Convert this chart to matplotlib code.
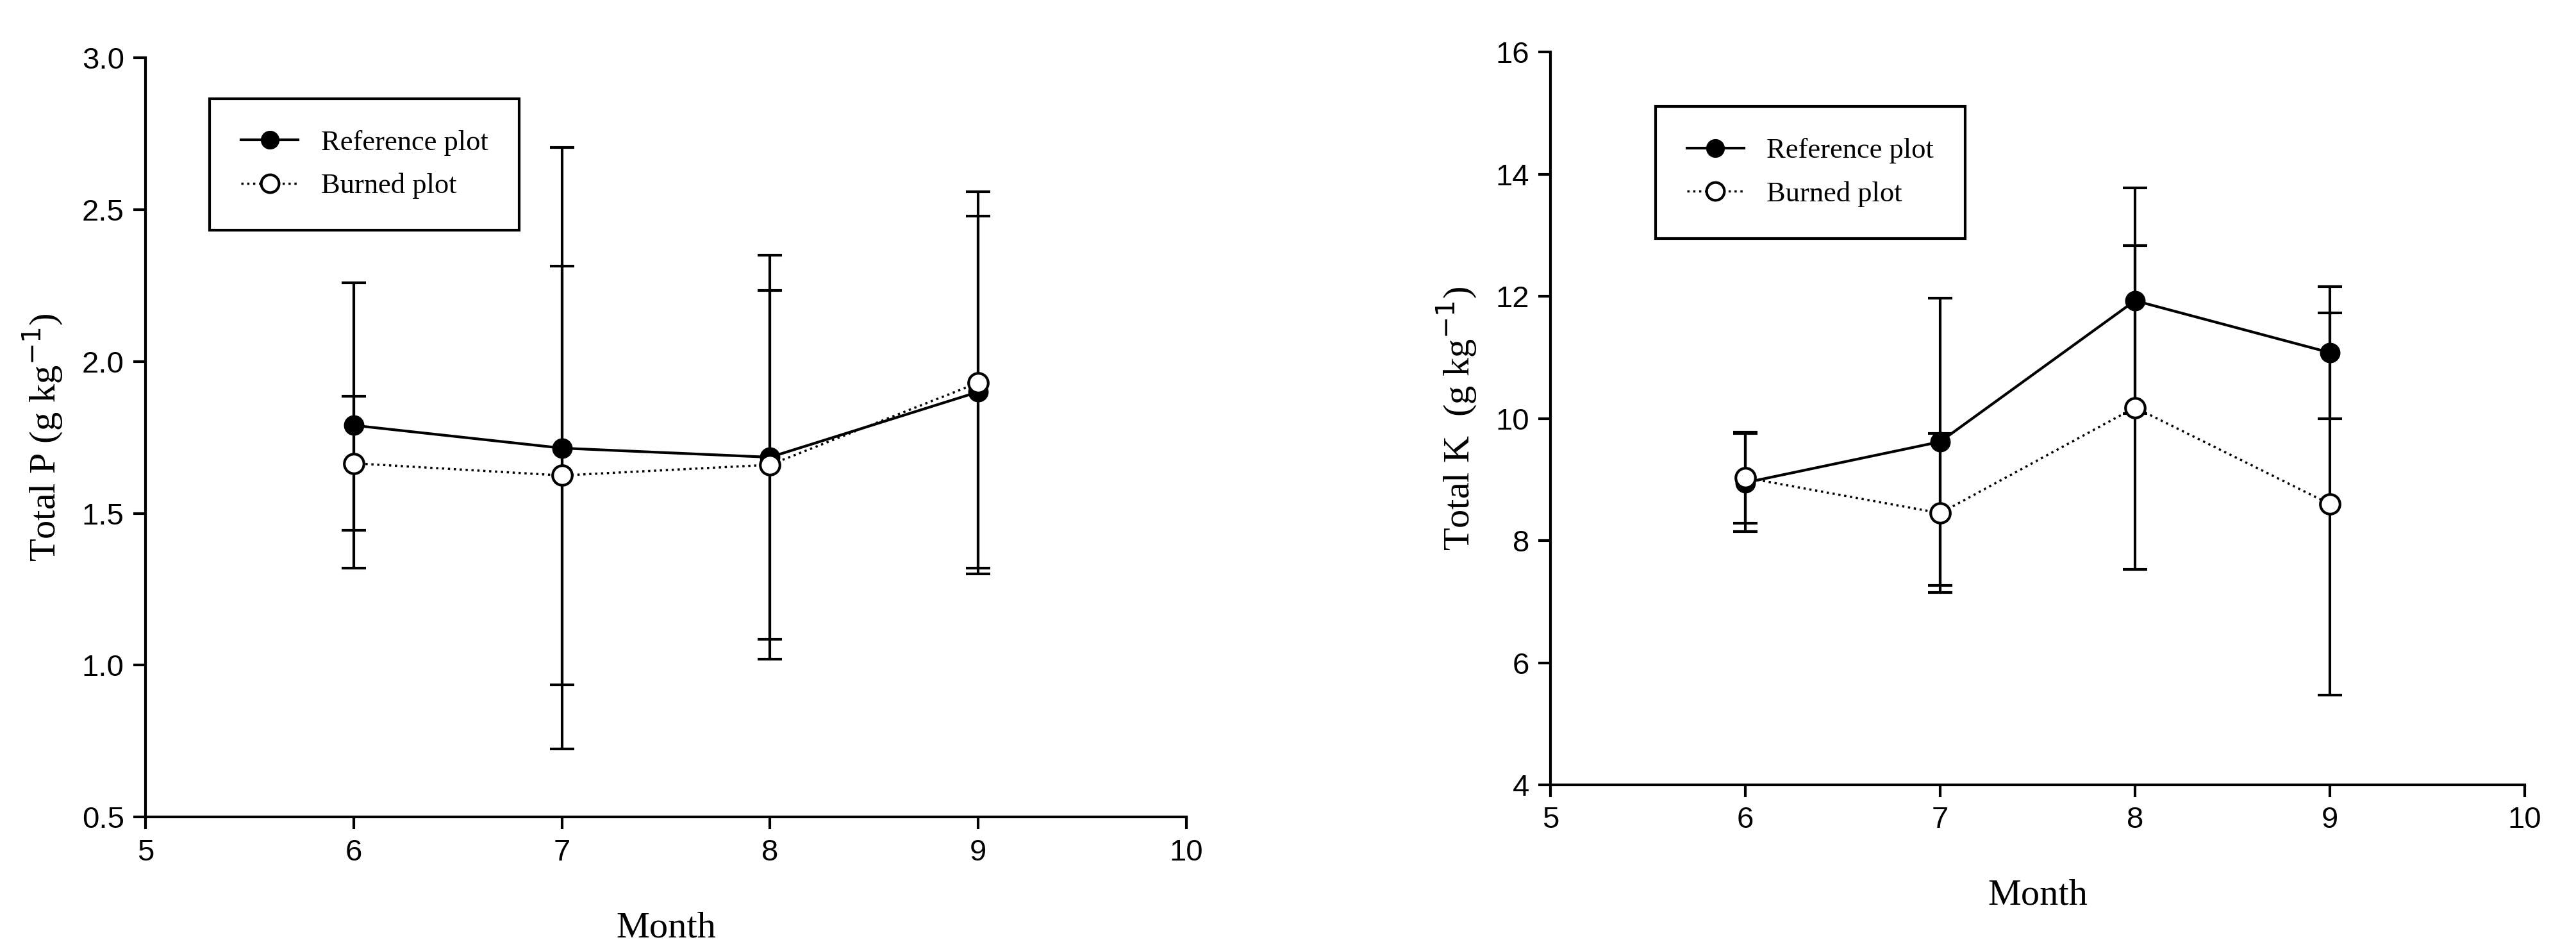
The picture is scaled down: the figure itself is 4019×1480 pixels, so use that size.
import matplotlib
matplotlib.use("Agg")
import matplotlib.pyplot as plt
from matplotlib.lines import Line2D

months = [6, 7, 8, 9]

p_ref = [1.79, 1.715, 1.685, 1.90]
p_ref_err = [0.47, 0.99, 0.665, 0.58]
p_burn = [1.665, 1.625, 1.66, 1.93]
p_burn_err = [0.22, 0.69, 0.575, 0.63]

k_ref = [8.95, 9.62, 11.93, 11.08]
k_ref_err = [0.80, 2.35, 1.85, 1.08]
k_burn = [9.03, 8.45, 10.18, 8.60]
k_burn_err = [0.75, 1.30, 2.65, 3.13]

serif = "Liberation Serif"
sans = "Liberation Sans"

fig = plt.figure(figsize=(40.19, 14.8), dpi=100)
ax1 = fig.add_axes([0.0565, 0.139, 0.404, 0.80])
ax2 = fig.add_axes([0.602, 0.173, 0.378, 0.772])


def draw(ax, ref, ref_err, burn, burn_err, ylim, yticks, ylabel, legend_anchor):
    ax.errorbar(months, ref, yerr=ref_err, color="black", lw=3, marker="o", ms=22,
                mfc="black", mec="black", capsize=14, capthick=3, elinewidth=3, zorder=3)
    ax.errorbar(months, burn, yerr=burn_err, color="black", lw=2.5, ls=":", marker="o", ms=22,
                mfc="white", mec="black", mew=3, capsize=14, capthick=3, elinewidth=3, zorder=4)
    ax.set_xlim(5, 10)
    ax.set_ylim(*ylim)
    ax.set_xticks([5, 6, 7, 8, 9, 10])
    ax.set_yticks(yticks)
    for s in ["top", "right"]:
        ax.spines[s].set_visible(False)
    for s in ["left", "bottom"]:
        ax.spines[s].set_linewidth(3)
    ax.tick_params(direction="out", length=14, width=3, labelsize=34, pad=10)
    for lab in ax.get_xticklabels() + ax.get_yticklabels():
        lab.set_family(sans)
    ax.set_xlabel("Month", family=serif, fontsize=42, labelpad=50)
    ax.set_ylabel(ylabel, family=serif, fontsize=42, labelpad=20)
    handles = [
        Line2D([], [], color="black", lw=3, marker="o", ms=20, mfc="black", mec="black"),
        Line2D([], [], color="black", lw=2.5, ls=":", marker="o", ms=20, mfc="white",
               mec="black", mew=3),
    ]
    leg = ax.legend(handles, ["Reference plot", "Burned plot"], loc="upper left",
                    bbox_to_anchor=legend_anchor, frameon=True, fancybox=False,
                    prop={"family": serif, "size": 32}, borderpad=1.1, handlelength=2.0,
                    edgecolor="black", labelspacing=0.6, framealpha=1)
    leg.get_frame().set_linewidth(3)


draw(ax1, p_ref, p_ref_err, p_burn, p_burn_err, (0.5, 3.0), [0.5, 1.0, 1.5, 2.0, 2.5, 3.0],
     "Total P (g kg$^{-1}$)", (0.048, 0.965))
ax1.yaxis.set_major_formatter(matplotlib.ticker.FormatStrFormatter("%.1f"))
for lab in ax1.get_yticklabels():
    lab.set_family(sans)
draw(ax2, k_ref, k_ref_err, k_burn, k_burn_err, (4, 16), [4, 6, 8, 10, 12, 14, 16],
     "Total K  (g kg$^{-1}$)", (0.093, 0.945))

fig.savefig("out.png", dpi=100)
